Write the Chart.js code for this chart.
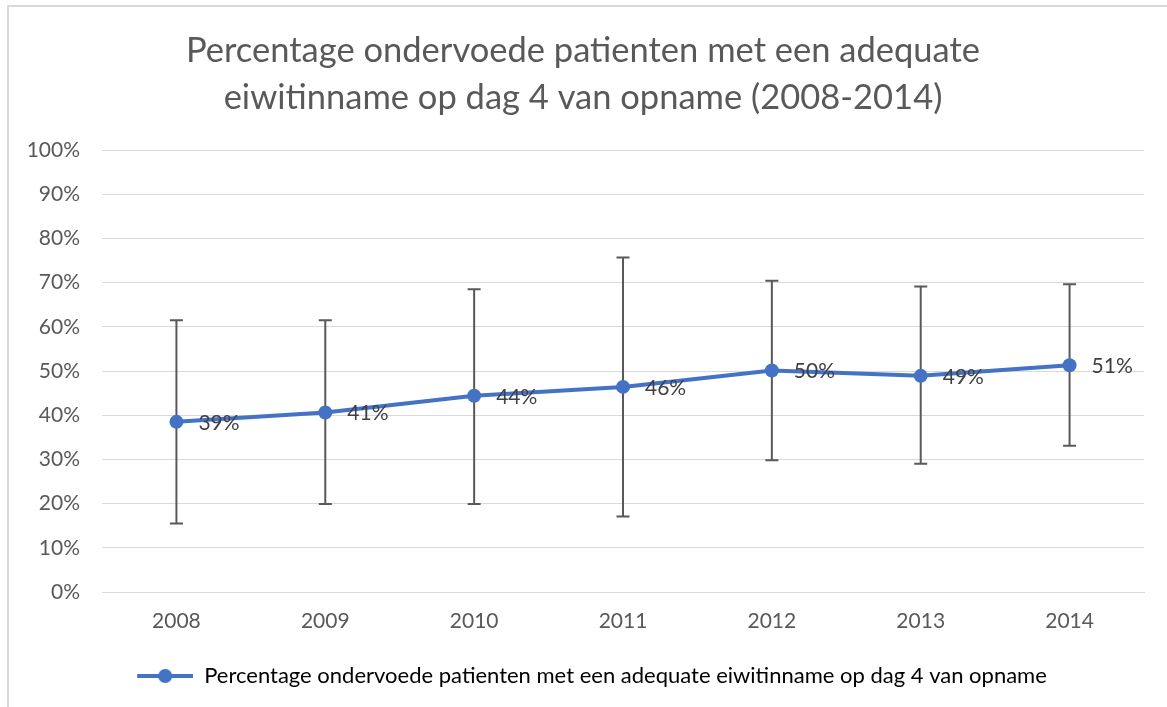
<!DOCTYPE html>
<html>
<head>
<meta charset="utf-8">
<script src="https://cdn.jsdelivr.net/npm/chart.js@4.4.1/dist/chart.umd.min.js"></script>
<style>
  html, body { margin: 0; padding: 0; background: #fff; }
  #wrap { position: relative; width: 1167px; height: 707px; }
</style>
</head>
<body>
<div id="wrap"><canvas id="grafico" width="1167" height="707"></canvas></div>
<script>
// datos
const jaren = ["2008", "2009", "2010", "2011", "2012", "2013", "2014"];
const percentage = [38.5, 40.6, 44.4, 46.4, 50.1, 48.9, 51.3];
const labels = ["39%", "41%", "44%", "46%", "50%", "49%", "51%"];
const foutLaag = [15.5, 19.9, 19.9, 17.1, 29.8, 29.0, 33.1];
const foutHoog = [61.5, 61.5, 68.5, 75.7, 70.4, 69.1, 69.6];
const yTicks = [0, 10, 20, 30, 40, 50, 60, 70, 80, 90, 100];

const serieNaam = "Percentage ondervoede patienten met een adequate eiwitinname op dag 4 van opname";
const blauw = "#4472C4";
const grijs = "#595959";
const lettertype = "Lato, 'Noto Sans', sans-serif";

// icoon voor de legenda: lijn met bolletje (met lege ruimte links om te centreren)
const icoon = document.createElement("canvas");
icoon.width = 74;
icoon.height = 16;
const ic = icoon.getContext("2d");
ic.strokeStyle = blauw;
ic.lineWidth = 4;
ic.beginPath();
ic.moveTo(18, 8);
ic.lineTo(74, 8);
ic.stroke();
ic.fillStyle = blauw;
ic.beginPath();
ic.arc(46, 8, 7, 0, Math.PI * 2);
ic.fill();

// rand van de grafiek
const rand = {
  id: "rand",
  beforeDraw(chart) {
    const ctx = chart.ctx;
    ctx.save();
    ctx.strokeStyle = "#D9D9D9";
    ctx.lineWidth = 2;
    ctx.beginPath();
    ctx.moveTo(8, chart.height);
    ctx.lineTo(8, 6);
    ctx.lineTo(chart.width, 6);
    ctx.stroke();
    ctx.restore();
  },
};

// foutbalken
const foutbalken = {
  id: "foutbalken",
  beforeDatasetsDraw(chart) {
    const ctx = chart.ctx;
    const x = chart.scales.x;
    const y = chart.scales.y;
    ctx.save();
    ctx.strokeStyle = grijs;
    ctx.lineWidth = 2;
    for (let i = 0; i < jaren.length; i++) {
      const px = x.getPixelForValue(i);
      const top = y.getPixelForValue(foutHoog[i]);
      const bot = y.getPixelForValue(foutLaag[i]);
      ctx.beginPath();
      ctx.moveTo(px, top);
      ctx.lineTo(px, bot);
      ctx.moveTo(px - 6.5, top);
      ctx.lineTo(px + 6.5, top);
      ctx.moveTo(px - 6.5, bot);
      ctx.lineTo(px + 6.5, bot);
      ctx.stroke();
    }
    ctx.restore();
  },
};

// waardelabels
const waardes = {
  id: "waardes",
  afterDatasetsDraw(chart) {
    const ctx = chart.ctx;
    const meta = chart.getDatasetMeta(0);
    ctx.save();
    ctx.fillStyle = "#404040";
    ctx.font = "21px " + lettertype;
    ctx.textAlign = "left";
    ctx.textBaseline = "middle";
    meta.data.forEach(function (p, i) {
      ctx.fillText(labels[i], p.x + 22, p.y + 1);
    });
    ctx.restore();
  },
};

const ctx = document.getElementById("grafico");
new Chart(ctx, {
  type: "line",
  data: {
    labels: jaren,
    datasets: [
      {
        label: serieNaam,
        data: percentage,
        borderColor: blauw,
        backgroundColor: blauw,
        borderWidth: 4,
        pointRadius: 7,
        pointHoverRadius: 7,
        pointBackgroundColor: blauw,
        pointBorderWidth: 0,
        tension: 0,
      },
    ],
  },
  options: {
    responsive: false,
    animation: false,
    devicePixelRatio: 1,
    layout: {
      padding: { left: 22, right: 23, top: 0, bottom: 10 },
    },
    plugins: {
      title: {
        display: true,
        text: [
          "Percentage ondervoede patienten met een adequate",
          "eiwitinname op dag 4 van opname (2008-2014)",
        ],
        color: grijs,
        font: { family: lettertype, size: 34.5, weight: "normal", lineHeight: 47 / 34.5 },
        padding: { top: 27, bottom: 29 },
      },
      legend: {
        display: true,
        position: "bottom",
        labels: {
          color: "#404040",
          font: { family: lettertype, size: 22 },
          usePointStyle: true,
          pointStyleWidth: 74,
          padding: 10,
          generateLabels: function () {
            return [
              {
                text: serieNaam,
                pointStyle: icoon,
                fillStyle: blauw,
                strokeStyle: blauw,
                lineWidth: 0,
                datasetIndex: 0,
                hidden: false,
              },
            ];
          },
        },
      },
      tooltip: { enabled: false },
    },
    scales: {
      x: {
        offset: true,
        grid: { display: false, drawTicks: false },
        border: { display: true, color: "#D9D9D9", width: 1 },
        ticks: {
          color: grijs,
          font: { family: lettertype, size: 21 },
          padding: 17,
        },
        afterFit: function (scale) {
          scale.height = 63;
        },
      },
      y: {
        min: 0,
        max: 100,
        afterBuildTicks: function (scale) {
          scale.ticks = yTicks.map(function (v) {
            return { value: v };
          });
        },
        grid: { color: "#D9D9D9", lineWidth: 1, drawTicks: false },
        border: { display: false },
        ticks: {
          color: grijs,
          font: { family: lettertype, size: 21 },
          padding: 22,
          callback: function (v) {
            return v + "%";
          },
        },
        afterFit: function (scale) {
          scale.width = 80;
        },
      },
    },
  },
  plugins: [rand, foutbalken, waardes],
});
</script>
</body>
</html>
